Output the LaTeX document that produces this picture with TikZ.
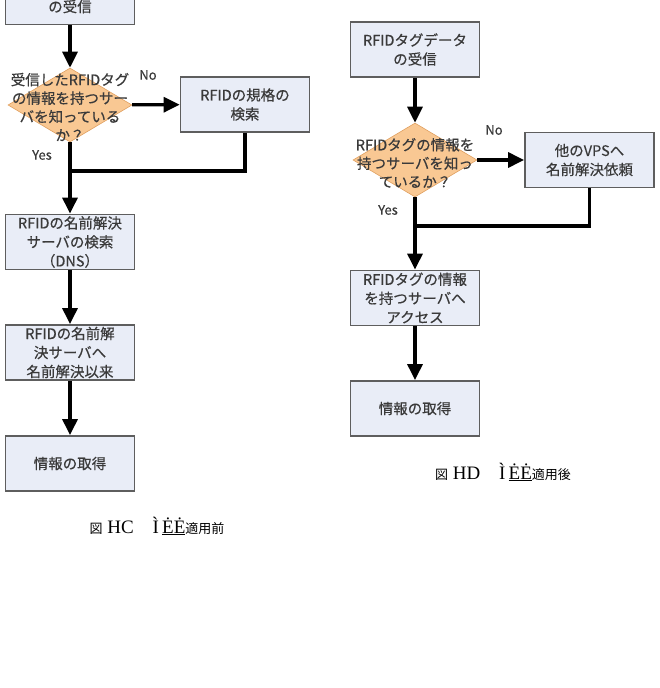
\documentclass[tikz,border=0pt]{standalone}
\usepackage{fontspec}
\setmainfont{Liberation Serif}
\newfontfamily\jpfont[RawFeature={embolden=0.45}]{Noto Sans CJK JP}
\newfontfamily\capfont{Noto Sans CJK JP}
\usetikzlibrary{shapes.geometric,arrows.meta}

\definecolor{boxfill}{HTML}{E9EDF7}
\definecolor{boxline}{HTML}{5E5E5E}
\definecolor{qfill}{HTML}{F9C893}
\definecolor{qline}{HTML}{E0A060}
\definecolor{txtgray}{HTML}{3A3A3A}

\tikzset{
	procbox/.style={
		draw=boxline, fill=boxfill, line width=1.8pt,
		minimum width=129pt, minimum height=55pt, inner sep=0pt,
		align=center, text=txtgray,
		font=\jpfont\fontsize{14.5}{19}\selectfont
	},
	decide/.style={
		diamond, draw=qline, fill=qfill, line width=0.6pt,
		minimum width=124pt, minimum height=74pt, inner sep=0pt
	},
	decidetext/.style={
		align=center, text=txtgray, inner sep=0pt,
		font=\jpfont\fontsize{14.5}{18.5}\selectfont
	},
	branch/.style={text=txtgray, font=\jpfont\fontsize{13}{13}\selectfont},
	flow/.style={line width=3.2pt, -{Triangle[length=16pt,width=15pt]}},
	joinline/.style={line width=3.2pt},
	caption/.style={text=black, font=\fontsize{19}{19}\selectfont}
}

\begin{document}
\begin{tikzpicture}[x=1pt, y=-1pt]
	\useasboundingbox (0,0) rectangle (659,688);
	\clip (0,0) rectangle (659,688);

	% before
	\node[procbox] (bRecv) at (70,-3) {RFIDタグデータ\\の受信};
	\node[decide] (bAsk) at (70,105) {};
	\node[decidetext] at (70,107) {受信したRFIDタグ\\の情報を持つサー\\バを知っている\\か？};
	\node[procbox] (bSpec) at (245,104.5) {RFIDの規格の\\検索};
	\node[procbox] (bDns) at (70,242) {RFIDの名前解決\\サーバの検索\\（DNS）};
	\node[procbox] (bReq) at (70,352.5) {RFIDの名前解\\決サーバへ\\名前解決以来};
	\node[procbox] (bGet) at (70,463.5) {情報の取得};
	\coordinate (bJoin) at (70,171);
	\node[branch] (bNo) at (148,75) {No};
	\node[branch] (bYes) at (42,155) {Yes};
	\node[caption] (bCap) at (157,526) {{\capfont\fontsize{13}{13}\selectfont 図} HC\quad Ì\,\underline{ĖĖ}{\capfont\fontsize{13}{13}\selectfont 適用前}};

	% after
	\node[procbox] (aRecv) at (415,49.5) {RFIDタグデータ\\の受信};
	\node[decide] (aAsk) at (415,160) {};
	\node[decidetext] at (415,163) {RFIDタグの情報を\\持つサーバを知っ\\ているか？};
	\node[procbox] (aVps) at (589.5,160) {他のVPSへ\\名前解決依頼};
	\node[procbox] (aAcc) at (415,298) {RFIDタグの情報\\を持つサーバへ\\アクセス};
	\node[procbox] (aGet) at (415,408.5) {情報の取得};
	\coordinate (aJoin) at (415,226);
	\node[branch] (aNo) at (494,130) {No};
	\node[branch] (aYes) at (388,210) {Yes};
	\node[caption] (aCap) at (503,472) {{\capfont\fontsize{13}{13}\selectfont 図} HD\quad Ì\,\underline{ĖĖ}{\capfont\fontsize{13}{13}\selectfont 適用後}};

	\foreach \from/\to in {bRecv/bAsk, bAsk/bSpec, bAsk/bDns, bDns/bReq, bReq/bGet,
		aRecv/aAsk, aAsk/aVps, aAsk/aAcc, aAcc/aGet}
		\draw[flow] (\from) -- (\to);
	\draw[joinline] (bSpec.south) |- (bJoin);
	\draw[joinline] (aVps.south) |- (aJoin);
\end{tikzpicture}
\end{document}
